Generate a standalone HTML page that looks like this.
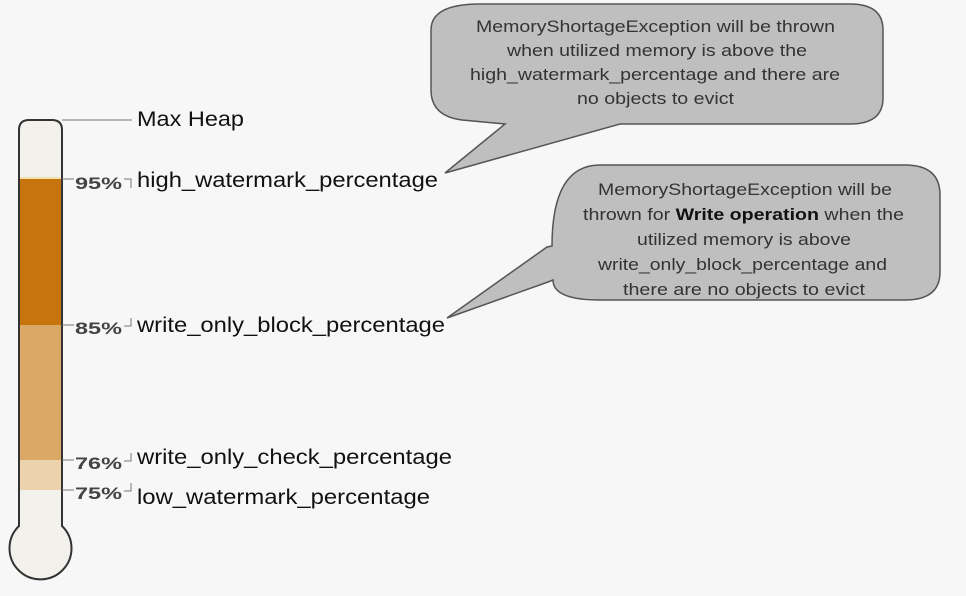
<!DOCTYPE html>
<html><head><style>
body{margin:0;background:#f7f7f7;}
svg{display:block}
text{font-family:"Liberation Sans",sans-serif}
</style></head><body>
<svg width="966" height="596" viewBox="0 0 966 596">
<rect width="966" height="596" fill="#f7f7f7"/>
<path d="M19,130 Q19,120 29,120 L52,120 Q62,120 62,130 L62,526 A31,31 0 1 1 19,526 Z" fill="#f3f1ec" stroke="#333" stroke-width="2"/>
<rect x="20" y="179" width="41" height="146" fill="#c8740e"/>
<rect x="20" y="325" width="41" height="135" fill="#dca866"/>
<rect x="20" y="460" width="41" height="30" fill="#ecd3ad"/>
<line x1="20" y1="178" x2="61" y2="178" stroke="#f5e0b0" stroke-width="2"/>
<g stroke="#777" stroke-width="1" fill="none">
<polyline points="62,120 132,120"/>
<line x1="62" y1="179" x2="74" y2="179"/>
<line x1="62" y1="325" x2="74" y2="325"/>
<line x1="62" y1="460" x2="74" y2="460"/>
<line x1="62" y1="490" x2="74" y2="490"/>
<polyline points="124,179 131,179 131,188"/>
<polyline points="124,326 131,326 131,318"/>
<polyline points="124,461 131,461 131,453"/>
<polyline points="124,491 131,491 131,483"/>
</g>
<g font-weight="bold" font-size="17" fill="#444">
<text x="75" y="189" textLength="47" lengthAdjust="spacingAndGlyphs">95%</text>
<text x="75" y="334" textLength="47" lengthAdjust="spacingAndGlyphs">85%</text>
<text x="75" y="469" textLength="47" lengthAdjust="spacingAndGlyphs">76%</text>
<text x="75" y="499" textLength="47" lengthAdjust="spacingAndGlyphs">75%</text>
</g>
<g font-size="21" fill="#111">
<text x="137" y="126" textLength="107" lengthAdjust="spacingAndGlyphs">Max Heap</text>
<text x="137" y="187" textLength="301" lengthAdjust="spacingAndGlyphs">high_watermark_percentage</text>
<text x="137" y="332" textLength="308" lengthAdjust="spacingAndGlyphs">write_only_block_percentage</text>
<text x="137" y="464" textLength="315" lengthAdjust="spacingAndGlyphs">write_only_check_percentage</text>
<text x="137" y="504" textLength="293" lengthAdjust="spacingAndGlyphs">low_watermark_percentage</text>
</g>
<path d="M480,4 L850,4 Q883,4 883,30 L883,98 Q883,124 850,124 L620,124 L445,173 L505,124 L462,120 Q431,116 431,90 L431,30 Q431,4 480,4 Z" fill="#bfbfbf" stroke="#555" stroke-width="1.5"/>
<g font-size="17" fill="#333">
<text x="476" y="32" textLength="359" lengthAdjust="spacingAndGlyphs">MemoryShortageException will be thrown</text>
<text x="507" y="56" textLength="300" lengthAdjust="spacingAndGlyphs">when utilized memory is above the</text>
<text x="470" y="80" textLength="370" lengthAdjust="spacingAndGlyphs">high_watermark_percentage and there are</text>
<text x="577" y="104" textLength="157" lengthAdjust="spacingAndGlyphs">no objects to evict</text>
</g>
<path d="M600,165 L905,165 Q940,165 940,195 L940,272 Q940,300 905,300 L600,300 Q553,300 553,280 L548,282 L447,318 L547,247 L552,246 Q552,165 600,165 Z" fill="#bfbfbf" stroke="#555" stroke-width="1.5"/>
<g font-size="17" fill="#333">
<text x="598" y="195" textLength="294" lengthAdjust="spacingAndGlyphs">MemoryShortageException will be</text>
<text x="583" y="220" textLength="321" lengthAdjust="spacingAndGlyphs">thrown for <tspan font-weight="bold" fill="#111">Write operation</tspan> when the</text>
<text x="637" y="245" textLength="214" lengthAdjust="spacingAndGlyphs">utilized memory is above</text>
<text x="598" y="270" textLength="289" lengthAdjust="spacingAndGlyphs">write_only_block_percentage and</text>
<text x="623" y="295" textLength="242" lengthAdjust="spacingAndGlyphs">there are no objects to evict</text>
</g>
</svg>
</body></html>
